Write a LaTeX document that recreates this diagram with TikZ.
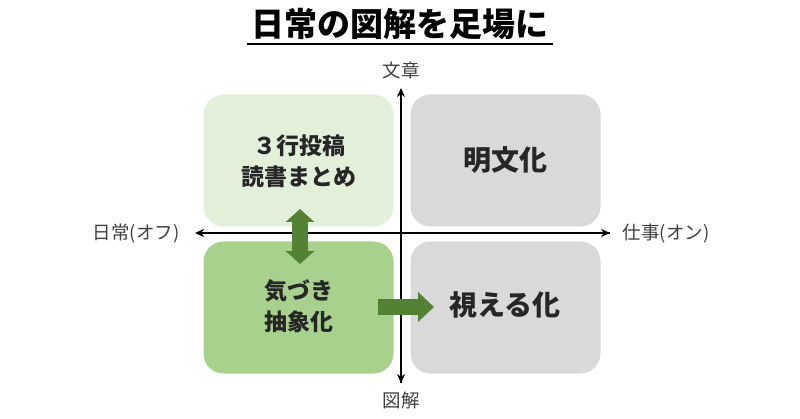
\documentclass[tikz,border=0pt]{standalone}
\usepackage{fontspec}
\setmainfont{Noto Sans CJK JP}
\usetikzlibrary{arrows.meta,calc}
\definecolor{lgreen}{HTML}{E2F0D9}
\definecolor{mgreen}{HTML}{A9D18E}
\definecolor{dgreen}{HTML}{548235}
\definecolor{lgray}{HTML}{D9D9D9}
\definecolor{txt}{HTML}{262626}
\definecolor{axtxt}{HTML}{404040}
\tikzset{
  quad/.style={rounded corners=20pt, minimum width=190pt, minimum height=132pt, inner sep=0pt, draw=none},
  boxtext/.style={font=\bfseries\fontsize{23}{31}\selectfont, text=txt, align=center},
  bigtext/.style={font=\bfseries\fontsize{28}{34}\selectfont, text=txt, align=center},
  axis/.style={line width=1.8pt, -{Stealth[length=9pt,width=8pt]}},
  axlabel/.style={font=\fontsize{18.5}{21}\selectfont, text=axtxt, inner sep=0pt},
  garrow/.style={draw=dgreen, line width=16pt},
}
\begin{document}
\begin{tikzpicture}[x=1pt,y=-1pt]
\useasboundingbox (0,0) rectangle (800,419);
\fill[white] (0,0) rectangle (800,419);
% title
\node[font=\bfseries\fontsize{33}{36}\selectfont, inner sep=0pt] (title) at (400,24) {日常の図解を足場に};
\coordinate (ul1) at (247,44);
\coordinate (ul2) at (553,44);
\draw[line width=2pt] (ul1) -- (ul2);
% quadrants
\node[quad, fill=lgreen] (tl) at (298.5,160.5) {};
\node[quad, fill=mgreen] (bl) at (298.5,307.5) {};
\node[quad, fill=lgray] (tr) at (505.5,160.5) {};
\node[quad, fill=lgray] (br) at (505.5,307.5) {};
\node[boxtext] (tltext) at (299,161) {３行投稿\\読書まとめ};
\node[boxtext] (bltext) at (299,306) {気づき\\抽象化};
\node[bigtext] (trtext) at (505,160) {明文化};
\node[bigtext] (brtext) at (505,305) {視える化};
% axes
\coordinate (vtop) at (401,88);
\coordinate (vbot) at (401,383);
\coordinate (hleft) at (195,233);
\coordinate (hright) at (610,233);
\draw[axis] (vbot) -- (vtop);
\draw[axis] (401,233) -- (vbot);
\draw[axis] (hright) -- (hleft);
\draw[axis] (401,233) -- (hright);
\node[axlabel] (top) at (401,70) {文章};
\node[axlabel] (bot) at (401,400) {図解};
\node[axlabel] (left) at (136,234) {日常(オフ)};
\node[axlabel] (right) at (666,234) {仕事(オン)};
% green arrows
\coordinate (ga1) at (300,209);
\coordinate (ga2) at (300,264);
\draw[garrow, {Triangle[length=13pt,width=28pt]}-{Triangle[length=13pt,width=28pt]}] (ga1) -- (ga2);
\coordinate (gb1) at (378,307);
\coordinate (gb2) at (434,307);
\draw[garrow, -{Triangle[length=16pt,width=29pt]}] (gb1) -- (gb2);
\end{tikzpicture}
\end{document}
